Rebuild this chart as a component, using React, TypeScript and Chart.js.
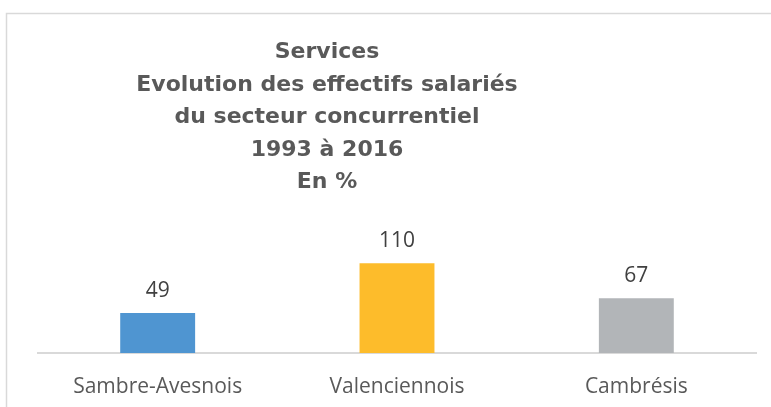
import React, { useEffect, useRef } from "react";
import { Chart, registerables } from "chart.js";

Chart.register(...registerables);

const categories = ["Sambre-Avesnois", "Valenciennois", "Cambrésis"];
const values = [49, 110, 67];
const barColors = ["#4f95d1", "#fdbc2b", "#b2b5b8"];
const titleLines = [
  "Services",
  "Evolution des effectifs salariés",
  "du secteur concurrentiel",
  "1993 à 2016",
  "En %",
];

const decorPlugin = {
  id: "decor",
  beforeDraw(chart: any) {
    const ctx = chart.ctx;
    ctx.save();
    ctx.fillStyle = "#ffffff";
    ctx.fillRect(0, 0, chart.width, chart.height);
    ctx.strokeStyle = "#d9d9d9";
    ctx.lineWidth = 1.5;
    ctx.strokeRect(6.5, 13.5, chart.width + 20, chart.height + 20);
    ctx.restore();
  },
  afterDraw(chart: any) {
    const ctx = chart.ctx;
    ctx.save();
    // title
    ctx.fillStyle = "#595959";
    ctx.font = "bold 22px 'DejaVu Sans'";
    ctx.textAlign = "center";
    ctx.textBaseline = "alphabetic";
    titleLines.forEach((line, i) => {
      ctx.fillText(line, 327, 58 + i * 32.5);
    });
    // data labels
    ctx.fillStyle = "#404040";
    ctx.font = "21px 'Open Sans'";
    const meta = chart.getDatasetMeta(0);
    meta.data.forEach((bar: any, i: number) => {
      ctx.fillText(String(values[i]), bar.x, bar.y - 16);
    });
    ctx.restore();
  },
};

export default function App() {
  const ref = useRef<HTMLCanvasElement>(null);
  useEffect(() => {
    const chart = new Chart(ref.current!, {
      type: "bar",
      data: {
        labels: categories,
        datasets: [
          {
            data: values,
            backgroundColor: barColors,
            barPercentage: 1,
            categoryPercentage: 0.313,
          },
        ],
      },
      options: {
        responsive: false,
        animation: false,
        layout: { padding: { left: 38, right: 15, top: 255, bottom: 0 } },
        plugins: {
          legend: { display: false },
          title: { display: false },
          tooltip: { enabled: false },
        },
        scales: {
          x: {
            grid: { display: false, drawTicks: false },
            border: { display: true, color: "#d9d9d9", width: 2 },
            ticks: {
              color: "#595959",
              font: { family: "'Open Sans'", size: 21 },
              padding: 21,
            },
            afterFit: (scale: any) => {
              scale.height = 407 - 353;
            },
          },
          y: {
            display: false,
            min: 0,
            max: 120,
          },
        },
      },
      plugins: [decorPlugin],
    });
    return () => chart.destroy();
  }, []);
  return (
    <div style={{ position: "absolute", left: 0, top: 0, width: 771, height: 407 }}>
      <canvas ref={ref} width={771} height={407} />
    </div>
  );
}
